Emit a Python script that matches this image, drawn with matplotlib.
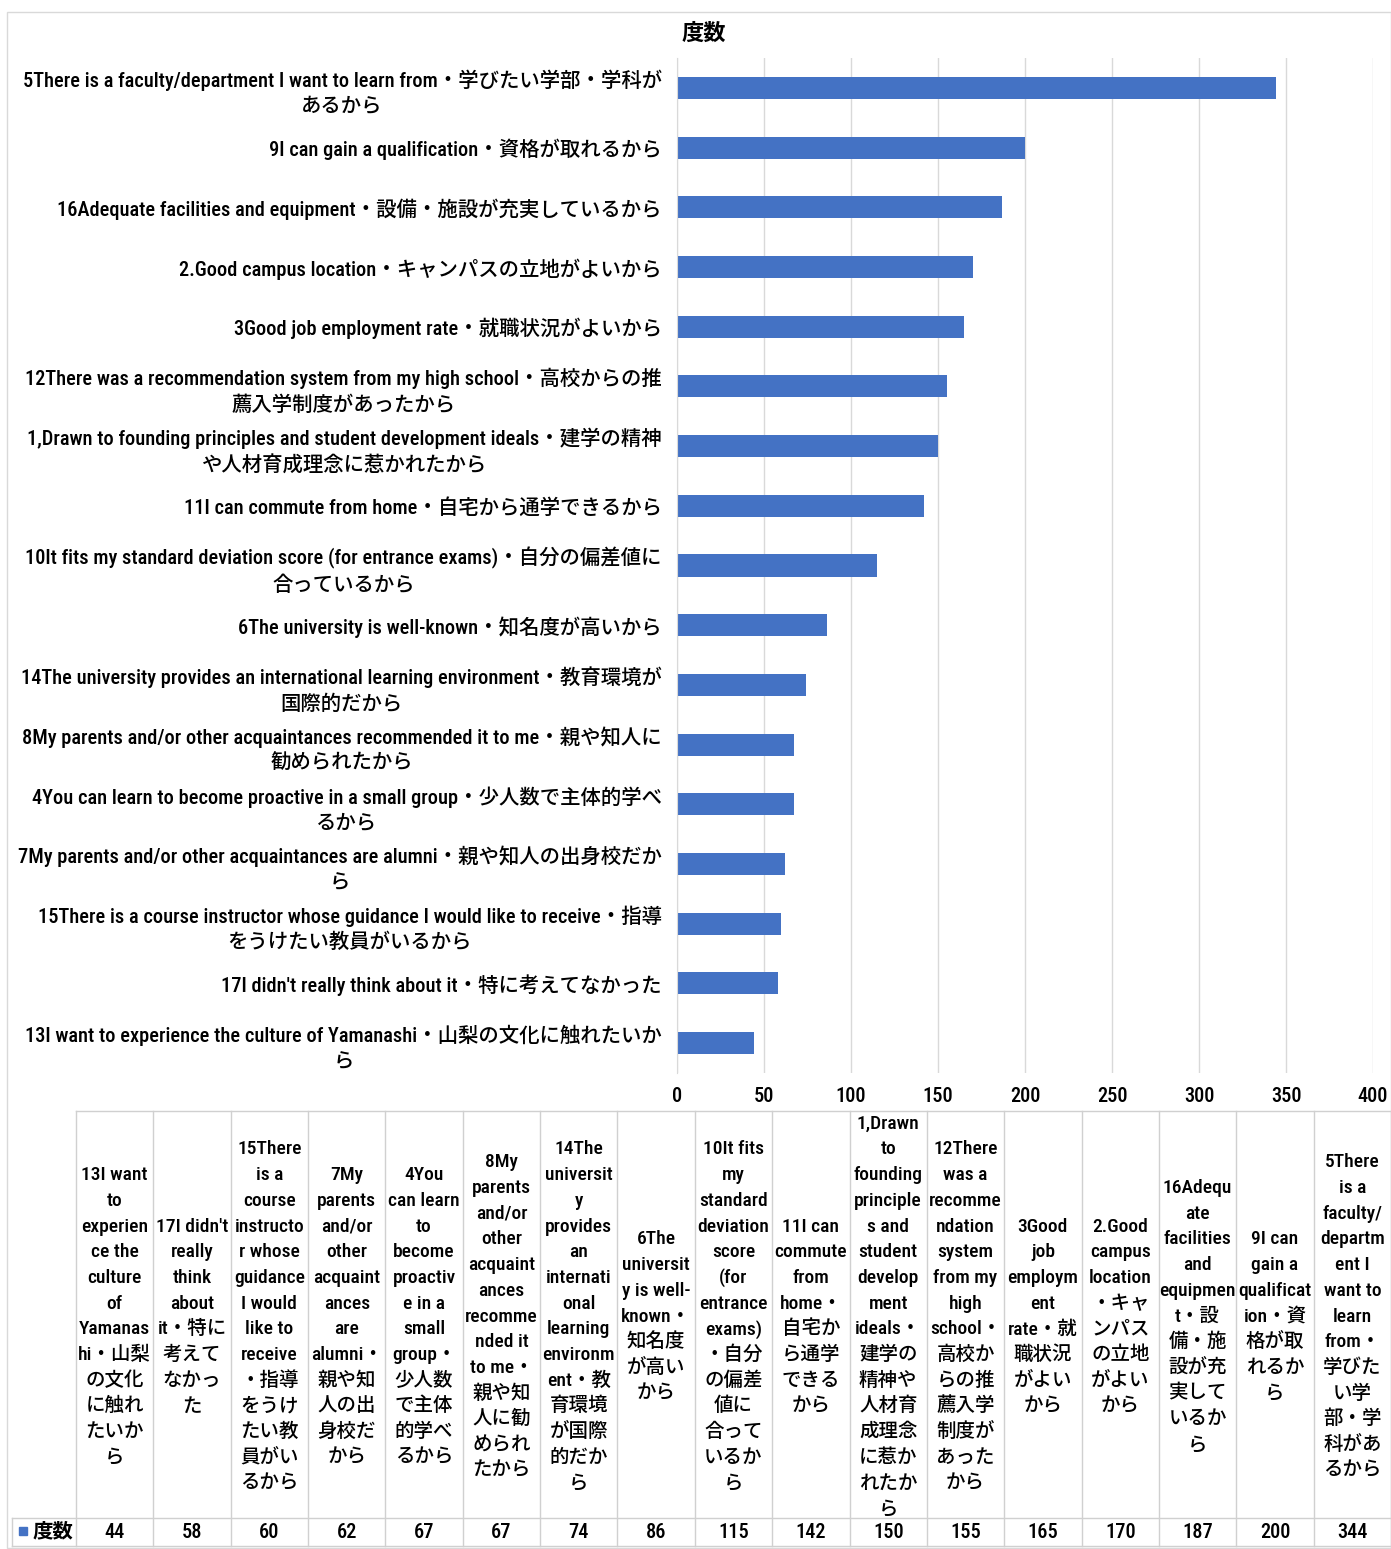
import matplotlib
matplotlib.use("Agg")
import matplotlib.pyplot as plt
from matplotlib import font_manager
from matplotlib.patches import Rectangle
from matplotlib.lines import Line2D

W, H = 1391, 1549

# the original uses a narrow Japanese UI font; pick the narrowest latin face on hand
fonts = font_manager.fontManager.ttflist
names = {f.name for f in fonts}
latin, stretch, fsize = "Liberation Sans", "normal", 12.5
if "Liberation Sans Narrow" in names:
    latin, stretch, fsize = "Liberation Sans Narrow", "normal", 14
elif "Roboto Condensed" in names:
    latin, stretch, fsize = "Roboto Condensed", "normal", 14
elif any(f.name == "DejaVu Sans" and f.stretch == "condensed" for f in fonts):
    latin, stretch, fsize = "DejaVu Sans", "condensed", 13
elif any(f.name == "Roboto" and f.stretch == "condensed" for f in fonts):
    latin, stretch, fsize = "Roboto", "condensed", 14
plt.rcParams["font.family"] = [latin, "Noto Sans CJK JP", "DejaVu Sans"]
plt.rcParams["font.stretch"] = stretch
plt.rcParams["font.weight"] = "medium"
label_size = fsize * 14.7 / 14

series_name = "度数"

# ascending order = bottom-to-top in the bar chart, left-to-right in the table
counts = [44, 58, 60, 62, 67, 67, 74, 86, 115, 142, 150, 155, 165, 170, 187, 200, 344]

reasons = [
    "13I want to experience the culture of Yamanashi・山梨の文化に触れたいか\nら",
    "17I didn't really think about it・特に考えてなかった",
    "15There is a course instructor whose guidance I would like to receive・指導\nをうけたい教員がいるから",
    "7My parents and/or other acquaintances are alumni・親や知人の出身校だか\nら",
    "4You can learn to become proactive in a small group・少人数で主体的学べ\nるから",
    "8My parents and/or other acquaintances recommended it to me・親や知人に\n勧められたから",
    "14The university provides an international learning environment・教育環境が\n国際的だから",
    "6The university is well-known・知名度が高いから",
    "10It fits my standard deviation score (for entrance exams)・自分の偏差値に\n合っているから",
    "11I can commute from home・自宅から通学できるから",
    "1,Drawn to founding principles and student development ideals・建学の精神\nや人材育成理念に惹かれたから",
    "12There was a recommendation system from my high school・高校からの推\n薦入学制度があったから",
    "3Good job employment rate・就職状況がよいから",
    "2.Good campus location・キャンパスの立地がよいから",
    "16Adequate facilities and equipment・設備・施設が充実しているから",
    "9I can gain a qualification・資格が取れるから",
    "5There is a faculty/department I want to learn from・学びたい学部・学科が\nあるから",
]

table_labels = [
    "13I want\nto\nexperien\nce the\nculture\nof\nYamanas\nhi・山梨\nの文化\nに触れ\nたいか\nら",
    "17I didn't\nreally\nthink\nabout\nit・特に\n考えて\nなかっ\nた",
    "15There\nis a\ncourse\ninstructo\nr whose\nguidance\nI would\nlike to\nreceive\n・指導\nをうけ\nたい教\n員がい\nるから",
    "7My\nparents\nand/or\nother\nacquaint\nances\nare\nalumni・\n親や知\n人の出\n身校だ\nから",
    "4You\ncan learn\nto\nbecome\nproactiv\ne in a\nsmall\ngroup・\n少人数\nで主体\n的学べ\nるから",
    "8My\nparents\nand/or\nother\nacquaint\nances\nrecomme\nnded it\nto me・\n親や知\n人に勧\nめられ\nたから",
    "14The\nuniversit\ny\nprovides\nan\ninternati\nonal\nlearning\nenvironm\nent・教\n育環境\nが国際\n的だか\nら",
    "6The\nuniversit\ny is well-\nknown・\n知名度\nが高い\nから",
    "10It fits\nmy\nstandard\ndeviation\nscore\n(for\nentrance\nexams)\n・自分\nの偏差\n値に\n合って\nいるか\nら",
    "11I can\ncommute\nfrom\nhome・\n自宅か\nら通学\nできる\nから",
    "1,Drawn\nto\nfounding\nprinciple\ns and\nstudent\ndevelop\nment\nideals・\n建学の\n精神や\n人材育\n成理念\nに惹か\nれたか\nら",
    "12There\nwas a\nrecomme\nndation\nsystem\nfrom my\nhigh\nschool・\n高校か\nらの推\n薦入学\n制度が\nあった\nから",
    "3Good\njob\nemploym\nent\nrate・就\n職状況\nがよい\nから",
    "2.Good\ncampus\nlocation\n・キャ\nンパス\nの立地\nがよい\nから",
    "16Adequ\nate\nfacilities\nand\nequipmen\nt・設\n備・施\n設が充\n実して\nいるか\nら",
    "9I can\ngain a\nqualificat\nion・資\n格が取\nれるか\nら",
    "5There\nis a\nfaculty/\ndepartm\nent I\nwant to\nlearn\nfrom・\n学びた\nい学\n部・学\n科があ\nるから",
]

x_ticks = [0, 50, 100, 150, 200, 250, 300, 350, 400]

bar_color = "#4472C4"
grid_color = "#D9D9D9"
line_color = "#D0D0D0"


def fx(px):
    return px / W


def fy(py):
    return 1 - py / H


def hline(fig, x0, x1, y):
    fig.add_artist(Line2D([fx(x0), fx(x1)], [fy(y), fy(y)], color=line_color, lw=1))


def vline(fig, x, y0, y1):
    fig.add_artist(Line2D([fx(x), fx(x)], [fy(y0), fy(y1)], color=line_color, lw=1))


fig = plt.figure(figsize=(W / 100, H / 100), dpi=100)

# chart border
fig.add_artist(Rectangle((fx(7), fy(1548)), fx(1391) - fx(7), (1548 - 12) / H,
                         fill=False, edgecolor=grid_color, lw=1))

fig.text(fx(704), fy(34), series_name, ha="center", va="center",
         fontsize=16, fontweight="bold")

# bar chart
ax = fig.add_axes([fx(677), fy(1073), fx(1373) - fx(677), (1073 - 58) / H])
ypos = list(range(len(counts)))
ax.barh(ypos, counts, height=0.37, color=bar_color, zorder=2)
ax.set_xlim(0, 400)
ax.set_ylim(-0.5, len(counts) - 0.5)
ax.set_xticks(x_ticks)
ax.set_xticklabels([str(t) for t in x_ticks], fontsize=label_size)
ax.set_yticks(ypos)
ax.set_yticklabels(reasons, fontsize=label_size, linespacing=1.4)
for t in ax.get_yticklabels():
    t.set_multialignment("center")
ax.tick_params(axis="x", length=0, pad=10)
ax.tick_params(axis="y", length=0, pad=11)
ax.grid(axis="x", color=grid_color, lw=1, zorder=0)
ax.grid(axis="y", visible=False)
for s in ["top", "right", "bottom"]:
    ax.spines[s].set_visible(False)
ax.spines["left"].set_color(grid_color)

# data table
t_left, t_right = 76, 1391
t_top, t_mid, t_bot = 1111, 1518, 1546
colw = (t_right - t_left) / len(counts)
pitch = 25.7

hline(fig, t_left, t_right, t_top)
hline(fig, 12, t_right, t_mid)
hline(fig, 12, t_right, t_bot)
vline(fig, 12, t_mid, t_bot)
for i in range(len(counts) + 1):
    vline(fig, t_left + i * colw, t_top, t_bot)

cy = (t_top + t_mid) / 2
for i, (lab, val) in enumerate(zip(table_labels, counts)):
    cx = t_left + (i + 0.5) * colw
    lines = lab.split("\n")
    n = len(lines)
    for j, ln in enumerate(lines):
        y = cy + (j - (n - 1) / 2) * pitch + 7
        fig.text(fx(cx), fy(y), ln, ha="center", va="baseline", fontsize=fsize)
    fig.text(fx(cx), fy((t_mid + t_bot) / 2), str(val), ha="center",
             va="center", fontsize=label_size)

# legend key in table
fig.add_artist(Rectangle((fx(19), fy(1535)), 8 / W, 8 / H, color=bar_color))
fig.text(fx(33), fy(1532), series_name, ha="left", va="center",
         fontsize=label_size, fontweight="bold")

fig.savefig("out.png", dpi=100)
